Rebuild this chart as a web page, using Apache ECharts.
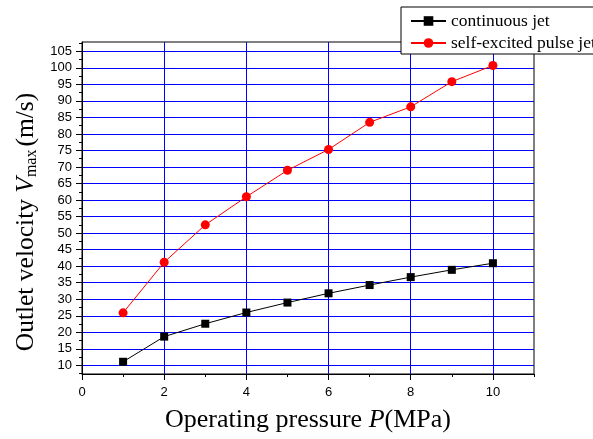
<!DOCTYPE html>
<html>
<head>
<meta charset="utf-8">
<script src="https://cdn.jsdelivr.net/npm/echarts@6/dist/echarts.min.js"></script>
<style>
  html, body { margin: 0; padding: 0; background: #fff; }
  #main { width: 593px; height: 439px; }
</style>
</head>
<body>
<div id="main"></div>
<script>
// pressure values (MPa)
var pressure = [1, 2, 3, 4, 5, 6, 7, 8, 9, 10];
// outlet velocity (m/s)
var continuousJet = [11.1, 18.7, 22.6, 26.0, 29.0, 31.8, 34.3, 36.7, 38.9, 40.9];
var pulseJet = [25.9, 41.2, 52.5, 61.0, 69.0, 75.3, 83.5, 88.2, 95.8, 100.7];
var seriesNames = ['continuous jet', 'self-excited pulse jet'];
// ticks
var xMajor = [0, 2, 4, 6, 8, 10];
var xMinor = [1, 3, 5, 7, 9, 11];
var yMajor = [10, 15, 20, 25, 30, 35, 40, 45, 50, 55, 60, 65, 70, 75, 80, 85, 90, 95, 100, 105];
var yMinor = [7.5, 12.5, 17.5, 22.5, 27.5, 32.5, 37.5, 42.5, 47.5, 52.5, 57.5, 62.5, 67.5, 72.5, 77.5, 82.5, 87.5, 92.5, 97.5, 102.5, 107.5];

var serif = '"Liberation Serif", "Times New Roman", serif';
var sans = '"Liberation Sans", Arial, sans-serif';

function zip(xs, ys) {
  return xs.map(function (x, i) { return [x, ys[i]]; });
}

var chart = echarts.init(document.getElementById('main'));

var option = {
  animation: false,
  backgroundColor: '#fff',
  grid: {
    left: 82, right: 59, top: 42, bottom: 65,
    show: true, borderColor: '#000', borderWidth: 1
  },
  legend: {
    orient: 'vertical',
    left: 401, top: 7,
    itemWidth: 35, itemHeight: 12, itemGap: 4,
    padding: [5, 40, 2, 9],
    borderColor: '#000', borderWidth: 1,
    backgroundColor: '#fff',
    textStyle: { fontFamily: serif, fontSize: 17.5, color: '#000' },
    data: seriesNames,
    z: 10
  },
  xAxis: [{
    type: 'value', min: 0, max: 11,
    axisLine: { lineStyle: { color: '#000', width: 1 } },
    axisTick: { inside: false, length: 6, customValues: xMajor, lineStyle: { color: '#000' } },
    axisLabel: { customValues: xMajor, margin: 12, fontFamily: sans, fontSize: 13, color: '#000' },
    splitLine: { show: true, lineStyle: { color: '#0000ff', width: 1 } },
    name: '{a|Operating pressure }{i|P}{a|(MPa)}',
    nameLocation: 'middle', nameGap: 33,
    nameTextStyle: {
      rich: {
        a: { fontFamily: serif, fontSize: 26, color: '#000' },
        i: { fontFamily: serif, fontSize: 26, fontStyle: 'italic', color: '#000' }
      }
    }
  }, {
    type: 'value', min: 0, max: 11, position: 'bottom', gridIndex: 0,
    axisLine: { show: false },
    axisTick: { show: true, length: 3, customValues: xMinor, lineStyle: { color: '#000' } },
    axisLabel: { show: false },
    splitLine: { show: false }
  }],
  yAxis: [{
    type: 'value', min: 7.4, max: 107.8,
    axisLine: { show: true, lineStyle: { color: '#000', width: 1 } },
    axisTick: { show: true, length: 6, customValues: yMajor, lineStyle: { color: '#000' } },
    axisLabel: { customValues: yMajor, margin: 10, fontFamily: sans, fontSize: 13, color: '#000' },
    splitLine: { show: true, lineStyle: { color: '#0000ff', width: 1 } },
    name: '{a|Outlet velocity }{i|V}{s|max}{a|(m/s)}',
    nameLocation: 'middle', nameGap: 40, nameRotate: 90,
    nameTextStyle: {
      padding: [0, 28, 0, 0],
      rich: {
        a: { fontFamily: serif, fontSize: 25.5, color: '#000' },
        i: { fontFamily: serif, fontSize: 25.5, fontStyle: 'italic', color: '#000' },
        s: { fontFamily: serif, fontSize: 16, color: '#000', padding: [11, 3, 0, 0] }
      }
    }
  }, {
    type: 'value', min: 7.4, max: 107.8, position: 'left',
    axisLine: { show: false },
    axisTick: { show: true, length: 3, customValues: yMinor, lineStyle: { color: '#000' } },
    axisLabel: { show: false },
    splitLine: { show: false }
  }],
  series: [{
    name: seriesNames[0],
    type: 'line',
    data: zip(pressure, continuousJet),
    symbol: 'rect', symbolSize: 8,
    itemStyle: { color: '#000' },
    lineStyle: { color: '#000', width: 1 },
    z: 5
  }, {
    name: seriesNames[1],
    type: 'line',
    data: zip(pressure, pulseJet),
    symbol: 'circle', symbolSize: 9,
    itemStyle: { color: '#ff0000' },
    lineStyle: { color: '#ff0000', width: 1 },
    z: 5
  }]
};

chart.setOption(option);
</script>
</body>
</html>
